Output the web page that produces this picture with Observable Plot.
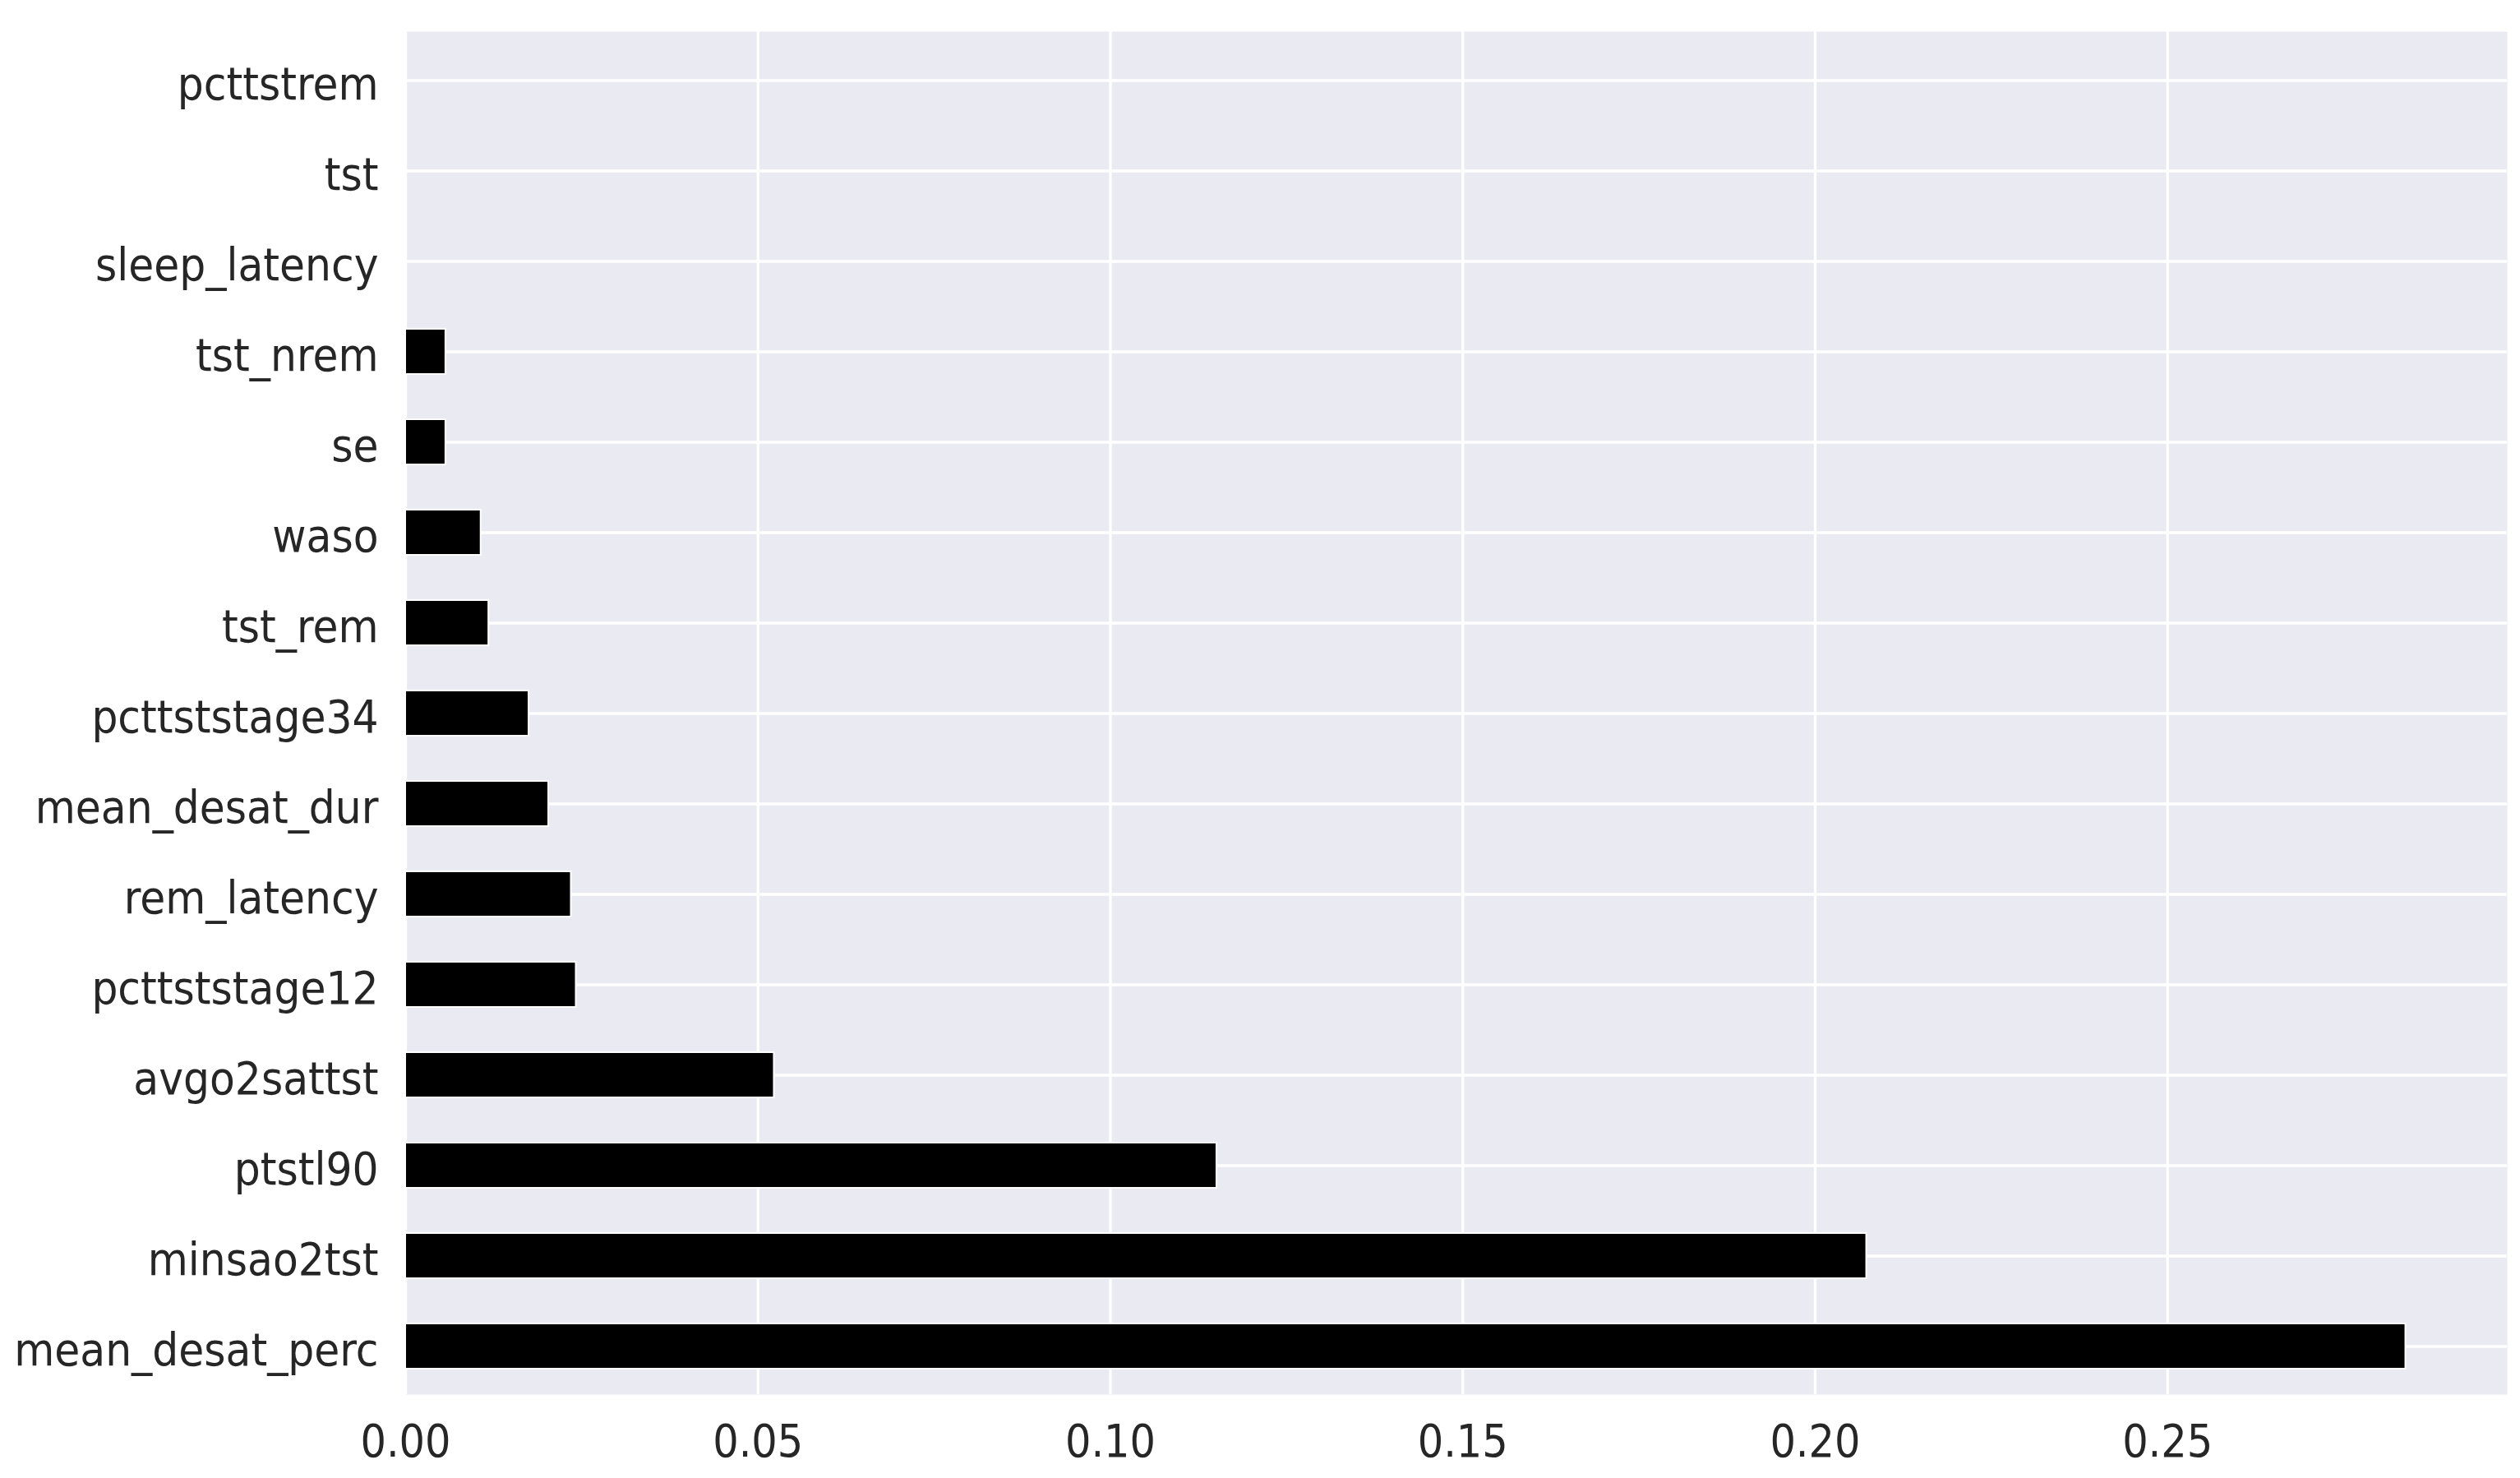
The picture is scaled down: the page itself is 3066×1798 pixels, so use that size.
<!DOCTYPE html>
<html>
<head>
<meta charset="utf-8">
<script src="https://cdn.jsdelivr.net/npm/d3@7"></script>
<script src="https://cdn.jsdelivr.net/npm/@observablehq/plot@0.6"></script>
<style>
  html, body { margin: 0; padding: 0; background: #ffffff; }
  #chart svg { display: block; }
</style>
</head>
<body>
<div id="chart"></div>
<script>
// Features, top to bottom as shown in the chart
const features = [
  "pcttstrem", "tst", "sleep_latency", "tst_nrem", "se", "waso", "tst_rem",
  "pcttststage34", "mean_desat_dur", "rem_latency", "pcttststage12",
  "avgo2sattst", "ptstl90", "minsao2tst", "mean_desat_perc"
];
// Importance values
const importances = [
  0.0, 0.0, 0.0, 0.0057, 0.0057, 0.0107, 0.0118,
  0.0175, 0.0203, 0.0235, 0.0242,
  0.0523, 0.1151, 0.2073, 0.2838
];
const xTicks = [0, 0.05, 0.10, 0.15, 0.20, 0.25];

const data = features.map((f, i) => ({feature: f, value: importances[i]}));

const FONT = "'DejaVu Sans Condensed', 'DejaVu Sans', sans-serif";

const chart = Plot.plot({
  width: 3066,
  height: 1798,
  marginLeft: 493,
  marginRight: 16,
  marginTop: 38,
  marginBottom: 102,
  style: {
    fontFamily: FONT,
    fontSize: "56px",
    color: "#262626",
    background: "#ffffff"
  },
  x: {
    domain: [0, 0.2982],
    ticks: xTicks,
    tickFormat: d3.format(".2f"),
    label: null
  },
  y: {
    domain: features,
    paddingInner: 0.5,
    paddingOuter: 0.25,
    label: null
  },
  marks: [
    Plot.frame({fill: "#EAEAF2", stroke: null}),
    Plot.gridX({ticks: xTicks, stroke: "#ffffff", strokeOpacity: 1, strokeWidth: 3.3}),
    Plot.gridY({stroke: "#ffffff", strokeOpacity: 1, strokeWidth: 3.3}),
    Plot.barX(data, {x: "value", y: "feature", fill: "#000000", stroke: "#ffffff", strokeWidth: 2}),
    Plot.axisX({ticks: xTicks, tickFormat: d3.format(".2f"), tickSize: 0, tickPadding: 36, fontSize: 55, fill: "#262626", label: null}),
    Plot.axisY({tickSize: 0, tickPadding: 33, fontSize: 56, fill: "#262626", dy: 5, label: null})
  ]
});
document.getElementById("chart").appendChild(chart);
</script>
</body>
</html>
